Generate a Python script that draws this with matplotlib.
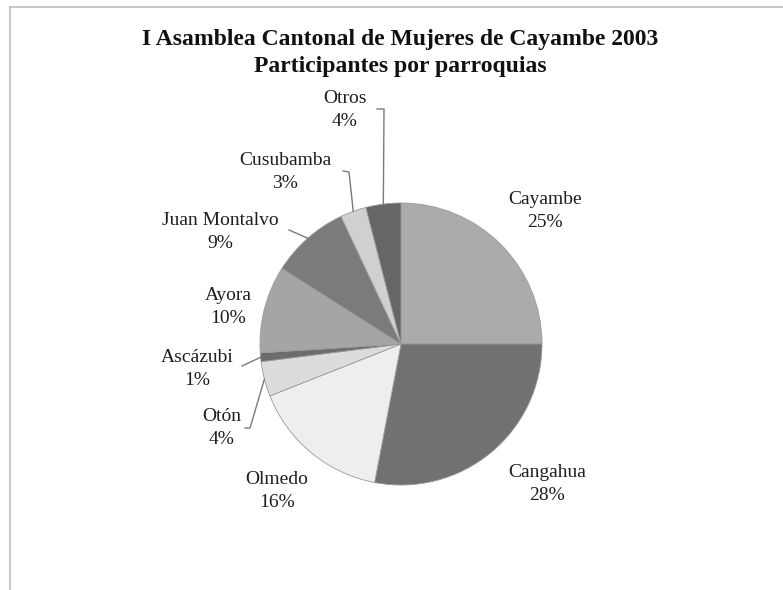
import numpy as np
import matplotlib
matplotlib.use("Agg")
import matplotlib.pyplot as plt

# data
parroquias = ["Cayambe", "Cangahua", "Olmedo", "Otón", "Ascázubi",
              "Ayora", "Juan Montalvo", "Cusubamba", "Otros"]
porcentajes = [25, 28, 16, 4, 1, 10, 9, 3, 4]
grises = ["#ababab", "#717171", "#eeeeee", "#dcdcdc", "#6c6c6c",
          "#a5a5a5", "#7b7b7b", "#d0d0d0", "#666666"]

# label centres in pixel coords (x, y from top)
label_pos = [(545, 211), (547, 484), (277, 491), (222, 428), (197, 369),
             (228, 307), (220, 232), (285, 172), (345, 110)]
# leader elbows (pixel coords) for the small slices, None = no leader
leader_elbow = [None, None, None, [(250, 428), (245, 428)], [(242, 366)],
                None, [(289, 230)], [(349, 172), (343, 171)], [(384, 109), (377, 109)]]

W, H = 783, 590
cx, cy, r = 401, 344, 141

fig = plt.figure(figsize=(W / 100, H / 100), dpi=100)
ax = fig.add_axes([0, 0, 1, 1])

wedges, _ = ax.pie(porcentajes, colors=grises, startangle=90, counterclock=False,
                   center=(cx, H - cy), radius=r,
                   wedgeprops=dict(edgecolor="#9a9a9a", linewidth=0.6))

ax.set_xlim(0, W)
ax.set_ylim(0, H)
ax.set_aspect("equal")
ax.axis("off")

for w, name, pct, (lx, ly), elbow in zip(wedges, parroquias, porcentajes, label_pos, leader_elbow):
    ax.text(lx, H - ly, f"{name}\n{pct}%", ha="center", va="center",
            fontsize=14, family="Liberation Serif", color="#1e1e1e", linespacing=1.5)
    if elbow is not None:
        ang = np.deg2rad((w.theta1 + w.theta2) / 2)
        ex = cx + r * np.cos(ang)
        ey = (H - cy) + r * np.sin(ang)
        xs = [ex] + [p[0] for p in elbow]
        ys = [ey] + [H - p[1] for p in elbow]
        ax.plot(xs, ys, color="#7a7a7a", linewidth=1.0)

fig.text(0.511, 1 - 29 / H, "I Asamblea Cantonal de Mujeres de Cayambe 2003\nParticipantes por parroquias",
         ha="center", va="top", fontsize=17, fontweight="bold",
         family="Liberation Serif", color="#111111", linespacing=1.4)

# frame of the scanned chart area
ax.plot([10, W], [H - 7, H - 7], color="#bdbdbd", linewidth=1.2)
ax.plot([10, 10], [H - 7, 0], color="#bdbdbd", linewidth=1.2)

fig.savefig("out.png", dpi=100, facecolor="white")
